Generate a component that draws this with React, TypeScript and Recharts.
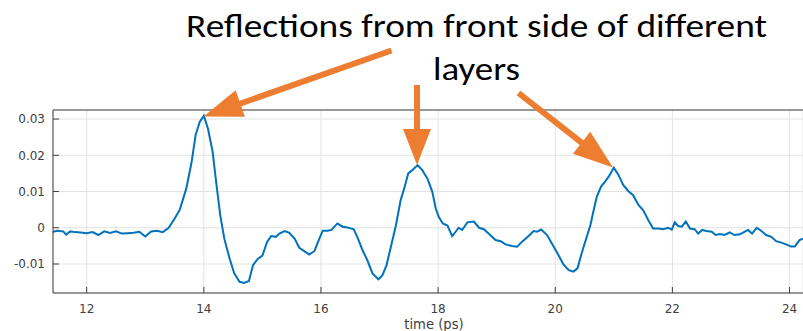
import { CartesianGrid, Line, LineChart, ReferenceLine, XAxis, YAxis } from 'recharts';

// time axis (ps) and reflected signal
const TIME = [
  11.4, 11.5, 11.6, 11.65, 11.72, 11.8, 11.9, 12.0, 12.1, 12.2, 12.3, 12.4, 12.5, 12.6, 12.7, 12.8, 12.9, 13.0,
  13.1, 13.2, 13.3, 13.4, 13.5, 13.59, 13.7, 13.79, 13.86, 13.93, 14.0, 14.07, 14.15, 14.21, 14.28, 14.35, 14.44,
  14.52, 14.61, 14.69, 14.77, 14.84, 14.92, 15.0, 15.08, 15.15, 15.23, 15.29, 15.38, 15.46, 15.55, 15.63, 15.72,
  15.8, 15.89, 15.95, 16.03, 16.11, 16.18, 16.28, 16.37, 16.45, 16.56, 16.62, 16.71, 16.79, 16.88, 16.98, 17.05,
  17.12, 17.2, 17.28, 17.36, 17.42, 17.49, 17.56, 17.65, 17.73, 17.82, 17.9, 17.96, 18.01, 18.08, 18.16, 18.24,
  18.3, 18.35, 18.41, 18.5, 18.61, 18.7, 18.78, 18.89, 18.98, 19.07, 19.15, 19.26, 19.35, 19.43, 19.55, 19.63,
  19.69, 19.76, 19.86, 19.94, 20.03, 20.14, 20.23, 20.31, 20.38, 20.45, 20.53, 20.6, 20.65, 20.71, 20.78, 20.85,
  20.92, 21.0, 21.08, 21.16, 21.25, 21.33, 21.42, 21.5, 21.59, 21.67, 21.76, 21.84, 21.93, 21.99, 22.04, 22.1,
  22.16, 22.23, 22.3, 22.38, 22.44, 22.51, 22.58, 22.67, 22.74, 22.81, 22.89, 22.98, 23.06, 23.15, 23.23, 23.29,
  23.36, 23.44, 23.52, 23.6, 23.69, 23.77, 23.86, 23.94, 24.03, 24.09, 24.17, 24.23,
];

const SIGNAL = [
  -0.0012, -0.0008, -0.001, -0.0019, -0.001, -0.0012, -0.0013, -0.0015, -0.0012, -0.002, -0.001, -0.0014, -0.001,
  -0.0016, -0.0015, -0.0014, -0.0011, -0.0024, -0.001, -0.0008, -0.0012, 0.0, 0.0025, 0.005, 0.0108, 0.018, 0.0256,
  0.0292, 0.0309, 0.0274, 0.021, 0.0127, 0.0035, -0.003, -0.0085, -0.0126, -0.0149, -0.0152, -0.0147, -0.0103,
  -0.0086, -0.0077, -0.0039, -0.0023, -0.0025, -0.0016, -0.0009, -0.0014, -0.003, -0.0055, -0.0065, -0.0074,
  -0.0064, -0.0039, -0.0008, -0.0008, -0.0006, 0.0012, 0.0003, 0.0001, -0.0004, -0.0025, -0.0062, -0.0089, -0.0126,
  -0.0142, -0.0131, -0.0103, -0.0048, 0.0007, 0.0076, 0.0108, 0.015, 0.0159, 0.0173, 0.0159, 0.0135, 0.01, 0.0053,
  0.003, 0.0012, 0.0006, -0.0023, -0.0011, 0.0, -0.0006, 0.0015, 0.0017, 0.0, -0.0004, -0.002, -0.0034, -0.0037,
  -0.0046, -0.005, -0.0052, -0.0039, -0.0022, -0.0009, -0.0011, -0.0005, -0.002, -0.0043, -0.0068, -0.0101,
  -0.0117, -0.0121, -0.0112, -0.0071, -0.0029, 0.0007, 0.0044, 0.0086, 0.0113, 0.0127, 0.0143, 0.0166, 0.0146,
  0.0118, 0.0101, 0.009, 0.0063, 0.0049, 0.0021, -0.0002, -0.0002, -0.0004, 0.0, -0.0005, 0.0015, 0.0005, 0.0003,
  0.0017, -0.0002, -0.0004, -0.0016, -0.0006, -0.0009, -0.0011, -0.002, -0.0017, -0.002, -0.0013, -0.002, -0.0018,
  -0.0011, -0.0006, -0.0016, 0.0, -0.0009, -0.002, -0.0025, -0.0037, -0.0041, -0.0046, -0.0052, -0.0052, -0.0034,
  -0.003,
];

const X_TICKS = [12, 14, 16, 18, 20, 22, 24];
const Y_TICKS = [-0.01, 0, 0.01, 0.02, 0.03];
const TITLE_LINES = ['Reflections from front side of different', 'layers'];
const X_LABEL = 'time (ps)';

const X_DOMAIN: [number, number] = [11.425, 24.23];
const Y_DOMAIN: [number, number] = [-0.018, 0.0325];

const data = TIME.map((t, i) => ({ t, v: SIGNAL[i] }));

const AXIS = '#404040';
const ORANGE = '#ED7D31';
const tickFont = { fill: '#404040', fontSize: 12, fontFamily: 'DejaVu Sans' };

function Arrow({ x1, y1, x2, y2, head = 39, half = 14, width = 6 }: {
  x1: number; y1: number; x2: number; y2: number; head?: number; half?: number; width?: number;
}) {
  const len = Math.hypot(x2 - x1, y2 - y1);
  const ux = (x2 - x1) / len;
  const uy = (y2 - y1) / len;
  const bx = x2 - ux * head;
  const by = y2 - uy * head;
  const pts = [
    [x2, y2],
    [bx - uy * half, by + ux * half],
    [bx + uy * half, by - ux * half],
  ].map((p) => p.join(',')).join(' ');
  return (
    <g>
      <line x1={x1} y1={y1} x2={bx + ux * 2} y2={by + uy * 2} stroke={ORANGE} strokeWidth={width} />
      <polygon points={pts} fill={ORANGE} />
    </g>
  );
}

export default function App() {
  return (
    <div style={{ position: 'absolute', left: 0, top: 0, width: 803, height: 331, background: '#fff' }}>
      <LineChart width={803} height={331} data={data} margin={{ top: 110, right: 0, bottom: 0, left: 0 }}>
        <CartesianGrid stroke="#e2e2e2" />
        <XAxis
          type="number"
          dataKey="t"
          domain={X_DOMAIN}
          allowDataOverflow
          ticks={X_TICKS}
          interval={0}
          height={38}
          tickSize={-6}
          tickMargin={17}
          stroke={AXIS}
          tick={tickFont}
          label={{ value: X_LABEL, position: 'insideBottom', offset: 2, dx: 6, fill: '#404040', fontSize: 13.2, fontFamily: 'DejaVu Sans' }}
        />
        <XAxis
          xAxisId="top"
          orientation="top"
          type="number"
          dataKey="t"
          domain={X_DOMAIN}
          allowDataOverflow
          ticks={X_TICKS}
          interval={0}
          height={0}
          tickSize={-6}
          tick={false}
          stroke={AXIS}
        />
        <YAxis
          type="number"
          domain={Y_DOMAIN}
          allowDataOverflow
          ticks={Y_TICKS}
          interval={0}
          width={53}
          tickSize={-6}
          tickMargin={14}
          stroke={AXIS}
          tick={tickFont}
          tickFormatter={(v: number) => String(Number(v.toFixed(2)))}
        />
        <ReferenceLine y={Y_DOMAIN[1]} stroke={AXIS} strokeWidth={1} />
        <Line type="linear" dataKey="v" stroke="#0072BD" strokeWidth={2} dot={false} isAnimationActive={false} />
      </LineChart>
      <svg width={803} height={331} style={{ position: 'absolute', left: 0, top: 0, pointerEvents: 'none' }}>
        <text x={186} y={37} fontSize={32} fontFamily="Carlito, Calibri, 'Open Sans', sans-serif" fill="#000" textLength={581} lengthAdjust="spacingAndGlyphs">
          {TITLE_LINES[0]}
        </text>
        <text x={433} y={80} fontSize={32} fontFamily="Carlito, Calibri, 'Open Sans', sans-serif" fill="#000" textLength={87} lengthAdjust="spacingAndGlyphs">
          {TITLE_LINES[1]}
        </text>
        <Arrow x1={391.5} y1={50.5} x2={203.5} y2={116.5} head={39} half={14} />
        <Arrow x1={417} y1={85} x2={417} y2={165} head={36} half={14} />
        <Arrow x1={518.5} y1={93} x2={613} y2={167.5} head={40} half={14} />
      </svg>
    </div>
  );
}
